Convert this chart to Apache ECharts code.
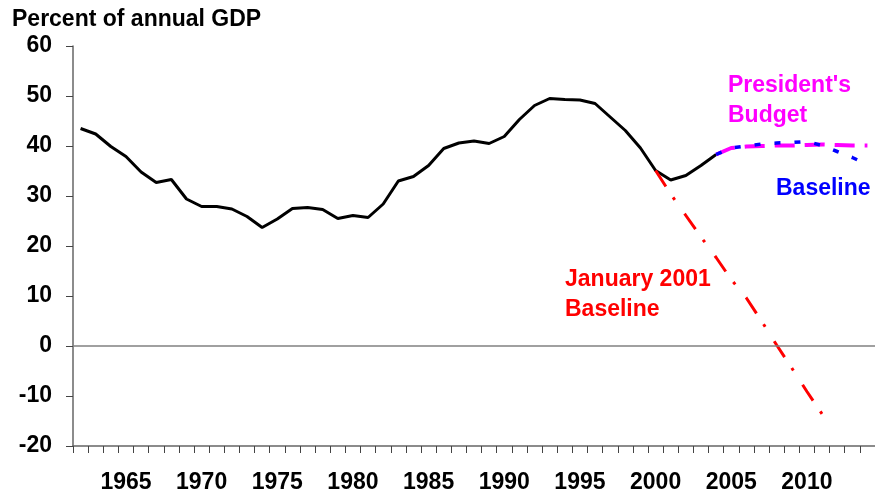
<!DOCTYPE html>
<html>
<head>
<meta charset="utf-8">
<script src="https://cdn.jsdelivr.net/npm/echarts@6/dist/echarts.min.js"></script>
<style>html,body{margin:0;padding:0;background:#fff}#c{width:875px;height:495px}</style>
</head>
<body>
<div id="c"></div>
<script>
var years = [];
for (var yr = 1962; yr <= 2014; yr++) years.push(String(yr));

var actual = [43.5,42.4,39.9,37.9,34.8,32.7,33.3,29.4,27.9,27.9,27.4,25.9,23.7,25.4,27.5,27.7,27.3,25.5,26.1,25.7,28.4,33.0,33.9,36.1,39.5,40.6,41.0,40.5,41.9,45.3,48.1,49.5,49.3,49.2,48.5,45.8,43.1,39.6,35.1,33.2,34.1,36.1,38.3];
var jan2001Years = ['2000','2001','2002','2003','2004','2005','2006','2007','2008','2009','2010','2011'];
var jan2001 = [35.1,30.4,26.1,21.8,17.7,13.3,9.6,5.0,0.2,-4.4,-9.1,-13.6];
var projYears = ['2004','2005','2006','2007','2008','2009','2010','2011','2012','2013','2014'];
var presBudget = [38.3,39.6,39.9,40.0,40.1,40.1,40.2,40.3,40.2,40.1,40.1];
var baseline = [38.3,39.6,40.0,40.4,40.6,40.7,40.9,40.1,38.9,37.7,36.3];
var yTicks = [-20,-10,0,10,20,30,40,50,60];

function align(srcYears, vals) {
  return years.map(function (y) {
    var i = srcYears.indexOf(y);
    return i < 0 ? null : vals[i];
  });
}
var actualFull = years.map(function (y, i) { return i < actual.length ? actual[i] : null; });

var FAM = '"Liberation Sans", Arial, sans-serif';
var FONT = 'bold 23px ' + FAM;
var chart = echarts.init(document.getElementById('c'));
chart.setOption({
  animation: false,
  grid: { left: 73, top: 46, width: 806, height: 400, containLabel: false },
  xAxis: {
    type: 'category',
    data: years,
    boundaryGap: true,
    axisLine: { onZero: false, lineStyle: { color: '#666', width: 1.5 } },
    axisTick: { show: true, interval: 0, length: 7, lineStyle: { color: '#444', width: 1 } },
    axisLabel: {
      interval: function (idx, val) { return Number(val) % 5 === 0; },
      margin: 25,
      color: '#000',
      fontFamily: FAM,
      fontWeight: 'bold',
      fontSize: 23
    },
    splitLine: { show: false }
  },
  yAxis: {
    type: 'value',
    min: yTicks[0],
    max: yTicks[yTicks.length - 1],
    interval: 10,
    axisLine: { show: true, lineStyle: { color: '#666', width: 1.5 } },
    axisTick: { show: true, length: 7, lineStyle: { color: '#444', width: 1 } },
    axisLabel: {
      margin: 21,
      color: '#000',
      fontFamily: FAM,
      fontWeight: 'bold',
      fontSize: 23
    },
    splitLine: { show: false }
  },
  graphic: [
    { type: 'text', left: 12, top: 5, style: { text: 'Percent of annual GDP', font: FONT, fill: '#000', lineHeight: 30 } },
    { type: 'text', left: 728, top: 71, style: { text: "President's\nBudget", font: FONT, fill: '#FF00FF', lineHeight: 30 } },
    { type: 'text', left: 776, top: 174, style: { text: 'Baseline', font: FONT, fill: '#0000FF', lineHeight: 30 } },
    { type: 'text', left: 565, top: 265, style: { text: 'January 2001\nBaseline', font: FONT, fill: '#FF0000', lineHeight: 30 } }
  ],
  series: [
    {
      type: 'line', name: 'zero', data: [], silent: true,
      markLine: {
        silent: true, symbol: ['none', 'none'], label: { show: false },
        lineStyle: { color: '#808080', width: 1.5, type: 'solid' },
        data: [{ yAxis: 0 }]
      }
    },
    {
      type: 'line', name: 'Actual', data: actualFull, showSymbol: false, symbol: 'none',
      lineStyle: { color: '#000', width: 3 }, connectNulls: false
    },
    {
      type: 'line', name: 'January 2001 Baseline', data: align(jan2001Years, jan2001), showSymbol: false, symbol: 'none',
      lineStyle: { color: '#FF0000', width: 3, type: [19, 13, 3, 17], cap: 'butt' }
    },
    {
      type: 'line', name: "President's Budget", data: align(projYears, presBudget), showSymbol: false, symbol: 'none',
      lineStyle: { color: '#FF00FF', width: 4, type: [20, 10], cap: 'butt' }
    },
    {
      type: 'line', name: 'Baseline', data: align(projYears, baseline), showSymbol: false, symbol: 'none',
      lineStyle: { color: '#0000FF', width: 3.5, type: [6, 14], cap: 'butt' }
    }
  ]
});
</script>
</body>
</html>
